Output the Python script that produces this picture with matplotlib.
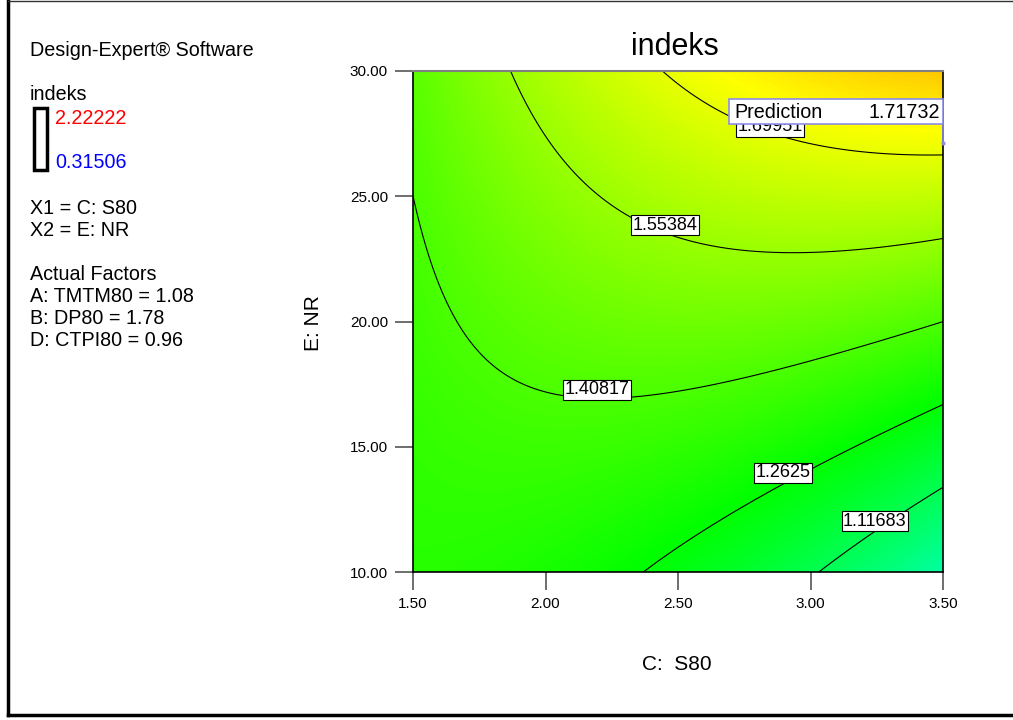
import numpy as np
import matplotlib.pyplot as plt
from matplotlib.colors import LinearSegmentedColormap
from matplotlib.patches import Rectangle
from matplotlib.lines import Line2D

plt.rcParams['font.family'] = ['Liberation Sans', 'DejaVu Sans']

# response range shown in the legend
z_high = 2.22222
z_low = 0.31506

levels = [1.11683, 1.2625, 1.40817, 1.55384, 1.69951]
level_text = ['1.11683', '1.2625', '1.40817', '1.55384', '1.69951']

# points (C: S80, E: NR)
trace_s80 = [
    [3.022, 3.201, 3.351, 3.5],
    [2.346, 2.604, 2.903, 3.052, 3.306, 3.5],
    [1.5, 1.52, 1.558, 1.608, 1.677, 1.74, 1.828, 1.967, 2.118, 2.193, 2.52, 2.772, 3.0, 3.5],
    [1.879, 2.036, 2.067, 2.306, 2.432, 2.77, 3.0, 3.5],
    [2.438, 2.696, 2.835, 3.11, 3.49],
]
trace_nr = [
    [10.0, 11.30, 12.5, 13.30],
    [10.0, 11.30, 13.56, 14.49, 15.69, 16.63],
    [25.53, 23.78, 22.45, 21.13, 19.79, 19.0, 18.2, 17.4, 16.93, 16.87, 17.27, 17.8, 18.55, 20.02],
    [30.0, 26.91, 26.45, 24.18, 23.58, 22.79, 22.75, 23.29],
    [30.0, 28.24, 27.51, 26.85, 26.65],
]

# corner readings plus the flagged prediction point
extra_s80 = [1.5, 1.5, 3.5, 3.5, 3.5]
extra_nr = [10.0, 30.0, 10.0, 30.0, 27.13]
extra_z = [1.34, 1.45, 0.97, 1.85, 1.71732]
extra_w = [0.4, 0.4, 0.4, 0.4, 1.0]

# label centres for each contour
label_s80 = [3.243, 2.896, 2.194, 2.451, 2.847]
label_nr = [12.03, 13.96, 17.27, 23.85, 27.78]

pred_value = '1.71732'

# weighted cubic response surface through the readings
px = np.concatenate([np.array(a) for a in trace_s80] + [np.array(extra_s80)])
py = np.concatenate([np.array(a) for a in trace_nr] + [np.array(extra_nr)])
pz = np.concatenate([np.full(len(a), lv) for a, lv in zip(trace_s80, levels)] + [np.array(extra_z)])
pw = np.concatenate([np.ones(len(a)) for a in trace_s80] + [np.array(extra_w)])


def terms(x, y):
    u = (x - 2.5) / 1.0
    v = (y - 20.0) / 10.0
    one = np.ones_like(u)
    return np.stack([one, u, v, u * v, u ** 2, v ** 2,
                     u ** 3, u ** 2 * v, u * v ** 2, v ** 3], axis=-1)


coef, *_ = np.linalg.lstsq(terms(px, py) * pw[:, None], pz * pw, rcond=None)

xs = np.linspace(1.5, 3.5, 400)
ys = np.linspace(10, 30, 400)
X, Y = np.meshgrid(xs, ys)
Z = terms(X, Y) @ coef

cmap = LinearSegmentedColormap.from_list(
    'de', ['#0000ff', '#00ffff', '#00ff00', '#ffff00', '#ff0000'])

W, H = 1013, 720
fig = plt.figure(figsize=(W / 100, H / 100), dpi=100)
ax = fig.add_axes([413 / W, 1 - 572 / H, 530 / W, 501 / H])

ax.imshow(Z, extent=[1.5, 3.5, 10, 30], origin='lower', aspect='auto',
          cmap=cmap, vmin=z_low, vmax=z_high, interpolation='bilinear')
cs = ax.contour(X, Y, Z, levels=levels, colors='black', linewidths=0.8)
labels = ax.clabel(cs, levels, inline=False, fontsize=13,
                   fmt=dict(zip(levels, level_text)),
                   manual=list(zip(label_s80, label_nr)))
for t in labels:
    t.set_rotation(0)
    t.set_bbox(dict(boxstyle='square,pad=0.08', facecolor='white',
                    edgecolor='black', lw=0.8))
    lv = float(t.get_text())
    i = int(np.argmin([abs(lv - l) for l in levels]))
    t.set_position((label_s80[i], label_nr[i]))
    t.set_zorder(5)

ax.set_xlim(1.5, 3.5)
ax.set_ylim(10, 30)
ax.set_xticks(np.arange(1.5, 3.51, 0.5))
ax.set_yticks(np.arange(10, 30.1, 5))
ax.xaxis.set_major_formatter('{x:.2f}')
ax.yaxis.set_major_formatter('{x:.2f}')
ax.tick_params(direction='out', length=13, width=1.2, color='#555555',
               labelsize=11, pad=5)
for side in ['left', 'bottom', 'right']:
    ax.spines[side].set_color('black')
    ax.spines[side].set_linewidth(1.2)
ax.spines['top'].set_color('#808080')
ax.spines['top'].set_linewidth(1.5)

fig.text(675 / W, 1 - 47 / H, 'indeks', fontsize=22, ha='center', va='center')
fig.text(677 / W, 1 - 665 / H, 'C:  S80', fontsize=15, ha='center', va='center')
fig.text(313 / W, 1 - 323 / H, 'E: NR', fontsize=15, rotation=90,
         ha='center', va='center')

# side panel
fs = 14.2
fig.text(30 / W, 1 - 50 / H, 'Design-Expert® Software', fontsize=fs, va='center')
fig.text(30 / W, 1 - 95 / H, 'indeks', fontsize=fs, va='center')
fig.add_artist(Rectangle((34 / W, 1 - 170 / H), 13 / W, 62 / H, fill=False,
                         lw=2.5, edgecolor='black', transform=fig.transFigure))
fig.text(55 / W, 1 - 118 / H, f'{z_high:.5f}', fontsize=fs, color='red', va='center')
fig.text(55 / W, 1 - 162 / H, f'{z_low:.5f}', fontsize=fs, color='blue', va='center')
side_lines = [('X1 = C: S80', 208), ('X2 = E: NR', 230),
              ('Actual Factors', 274), ('A: TMTM80 = 1.08', 296),
              ('B: DP80 = 1.78', 319), ('D: CTPI80 = 0.96', 341)]
for txt, yy in side_lines:
    fig.text(30 / W, 1 - yy / H, txt, fontsize=fs, va='center')

# prediction flag
flag_col = '#8c8ce6'
fig.add_artist(Line2D([943 / W, 943 / W], [1 - 124 / H, 1 - 143 / H],
                      transform=fig.transFigure, color=flag_col, lw=1.2,
                      marker='o', markersize=2, markevery=[1]))
fig.add_artist(Rectangle((729 / W, 1 - 124 / H), 214 / W, 25 / H,
                         facecolor='white', edgecolor=flag_col, lw=1.2,
                         transform=fig.transFigure))
fig.text(734 / W, 1 - 112 / H, 'Prediction', fontsize=14.2, va='center')
fig.text(940 / W, 1 - 112 / H, pred_value, fontsize=14.2, va='center', ha='right')

# outer frame
fig.add_artist(Line2D([8 / W, 8 / W], [5 / H, 1], transform=fig.transFigure,
                      color='black', lw=2.5))
fig.add_artist(Line2D([8 / W, 1], [5 / H, 5 / H], transform=fig.transFigure,
                      color='black', lw=2.5))
fig.add_artist(Line2D([8 / W, 1], [1 - 0.5 / H, 1 - 0.5 / H],
                      transform=fig.transFigure, color='#333333', lw=1))

fig.savefig('out.png', dpi=100)
